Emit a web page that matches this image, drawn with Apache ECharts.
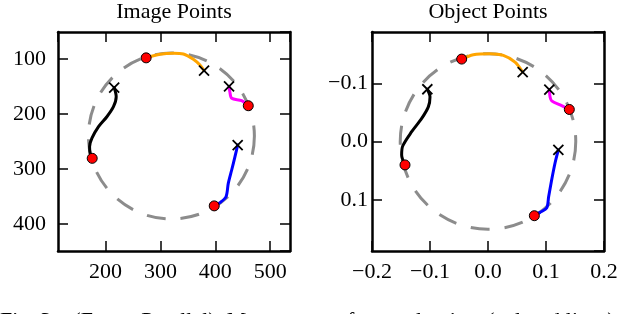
<!DOCTYPE html>
<html>
<head>
<meta charset="utf-8">
<script src="https://cdn.jsdelivr.net/npm/echarts@6/dist/echarts.min.js"></script>
<style>
html,body{margin:0;padding:0;background:#fff;}
#chart{width:640px;height:314px;}
</style>
</head>
<body>
<div id="chart"></div>
<script>
// ---- Titles / caption ----
const titles = ['Image Points', 'Object Points'];
const caption = 'Fig. 3.   (Errors Parallel). Movements of control points (colored lines)';

// ---- Axis extents ----
const imgX = [113.5, 536];
const imgY = [51, 449];
const objX = [-0.2, 0.2];
const objY = [-0.188, 0.188];

// ---- Reference circles [cx, cy, r] ----
const imgCircle = [320, 240, 151];
const objCircle = [0.0, 0.0, 0.151];

// ---- Control point paths (start = red dot, end = cross) : Image Points ----
const imgOrange  = [[274,98],[299.5,91.5],[323.6,89.6],[341.8,91],[360,100.5],[372,111],[379.5,121]];
const imgMagenta = [[460,185],[448,175.7],[429.8,171.5],[426.5,160],[425,150]];
const imgBlack   = [[175.8,280.6],[172,271.5],[171,259.5],[175.3,244],[187.3,223],[202.5,205],[214.5,186.7],[219.5,168.5],[215.8,152]];
const imgBlue    = [[398,367],[408.5,361],[419.5,350.4],[423.6,326],[429.8,301.8],[435.8,277.6],[440.7,256.4]];

// ---- Control point paths : Object Points ----
const objOrange  = [[-0.0454,-0.1415],[-0.0253,-0.149],[0.0034,-0.1508],[0.0264,-0.1479],[0.0466,-0.1364],[0.0598,-0.1193]];
const objMagenta = [[0.1402,-0.055],[0.1253,-0.0624],[0.1098,-0.0697],[0.107,-0.0766],[0.1057,-0.0892]];
const objBlack   = [[-0.1431,0.0402],[-0.1489,0.0231],[-0.147,0.0077],[-0.1316,-0.0168],[-0.1143,-0.0397],[-0.1029,-0.0595],[-0.1,-0.0766],[-0.1046,-0.0897]];
const objBlue    = [[0.0799,0.1274],[0.0897,0.1217],[0.1011,0.1142],[0.1046,0.0944],[0.1098,0.0658],[0.1155,0.0373],[0.1213,0.0145]];

const colors = ['#FFA500', '#FF00FF', '#000000', '#0000FF'];
const imgPaths = [imgOrange, imgMagenta, imgBlack, imgBlue];
const objPaths = [objOrange, objMagenta, objBlack, objBlue];

const FONT = '"Liberation Serif", "DejaVu Serif", serif';
const FS = 22;
const minus = v => {
  const s = Math.abs(v) < 1e-9 ? '0.0' : Math.abs(v).toFixed(1);
  return v < -1e-9 ? '\u2212' + s : s;
};

function makeAxis(pos, grid, ext, opts) {
  return Object.assign({
    type: 'value',
    gridIndex: grid,
    position: pos,
    min: ext[0], max: ext[1],
    scale: true,
    axisLine: {show: true, onZero: false, lineStyle: {color: '#000', width: 2.5}},
    axisTick: {show: true, inside: true, length: 10, lineStyle: {color: '#000', width: 1.5}},
    splitLine: {show: false},
    axisLabel: {show: false},
  }, opts);
}
const lbl = (margin, showEnds, fmt) => Object.assign({show: true, color: '#000', fontFamily: FONT, fontSize: FS,
  margin: margin, showMinLabel: showEnds, showMaxLabel: showEnds}, fmt ? {formatter: fmt} : {});

const xAxes = [
  makeAxis('bottom',0,imgX,{minInterval:100,maxInterval:100,axisLabel:lbl(10,false)}),
  makeAxis('top',0,imgX,{minInterval:100,maxInterval:100}),
  makeAxis('bottom',1,objX,{minInterval:0.1,maxInterval:0.1,axisLabel:lbl(10,true,minus)}),
  makeAxis('top',1,objX,{minInterval:0.1,maxInterval:0.1}),
];
const yAxes = [
  makeAxis('left',0,imgY,{inverse:true,minInterval:100,maxInterval:100,axisLabel:lbl(12,false)}),
  makeAxis('right',0,imgY,{inverse:true,minInterval:100,maxInterval:100}),
  makeAxis('left',1,objY,{inverse:true,minInterval:0.1,maxInterval:0.1,axisLabel:lbl(4,false,minus)}),
  makeAxis('right',1,objY,{inverse:true,minInterval:0.1,maxInterval:0.1}),
];

function circleSeries(c, xi, yi) {
  return {
    type: 'custom', xAxisIndex: xi, yAxisIndex: yi, z: 1,
    data: [c], encode: {x: 0, y: 1},
    renderItem: (params, api) => {
      const p = api.coord([api.value(0), api.value(1)]);
      const s = api.size([api.value(2), api.value(2)]);
      return {type: 'circle', shape: {cx: p[0], cy: p[1], r: (s[0] + s[1]) / 2},
        style: {fill: 'none', stroke: '#8c8c8c', lineWidth: 3, lineDash: [19, 15]}};
    }
  };
}

const series = [];
[[imgCircle, imgPaths, 0], [objCircle, objPaths, 2]].forEach(([circ, paths, ai]) => {
  series.push(circleSeries(circ, ai, ai));
  paths.forEach((p, i) => {
    series.push({type: 'line', xAxisIndex: ai, yAxisIndex: ai, data: p, showSymbol: false, symbol: 'none',
      smooth: 0.3, z: 2, lineStyle: {color: colors[i], width: 3, cap: 'round', join: 'round'}});
  });
  series.push({type: 'scatter', xAxisIndex: ai, yAxisIndex: ai, z: 3,
    data: paths.map(p => p[0]), symbol: 'circle', symbolSize: 10,
    itemStyle: {color: '#ff0000', borderColor: '#000', borderWidth: 1, opacity: 1}});
  series.push({type: 'scatter', xAxisIndex: ai, yAxisIndex: ai, z: 4,
    data: paths.map(p => p[p.length - 1]), symbol: 'path://M0,0L10,10M10,0L0,10', symbolSize: 10,
    itemStyle: {color: 'none', borderColor: '#000', borderWidth: 1.8, opacity: 1}});
});

const chart = echarts.init(document.getElementById('chart'), null, {renderer: 'canvas'});
chart.setOption({
  animation: false,
  backgroundColor: '#fff',
  grid: [
    {left: 58, top: 32, width: 232, height: 219},
    {left: 372, top: 32, width: 232, height: 219}
  ],
  xAxis: xAxes,
  yAxis: yAxes,
  series: series,
  graphic: [
    {type: 'text', x: 174, y: 12, style: {text: titles[0], font: '22px ' + FONT, textAlign: 'center', textVerticalAlign: 'middle', verticalAlign: 'middle', fill: '#000'}},
    {type: 'text', x: 488, y: 12, style: {text: titles[1], font: '22px ' + FONT, textAlign: 'center', textVerticalAlign: 'middle', verticalAlign: 'middle', fill: '#000'}},
    {type: 'text', x: 0, y: 310, style: {text: caption, font: '22px ' + FONT, textAlign: 'left', textVerticalAlign: 'top', verticalAlign: 'top', fill: '#000'}}
  ]
});
</script>
</body>
</html>
